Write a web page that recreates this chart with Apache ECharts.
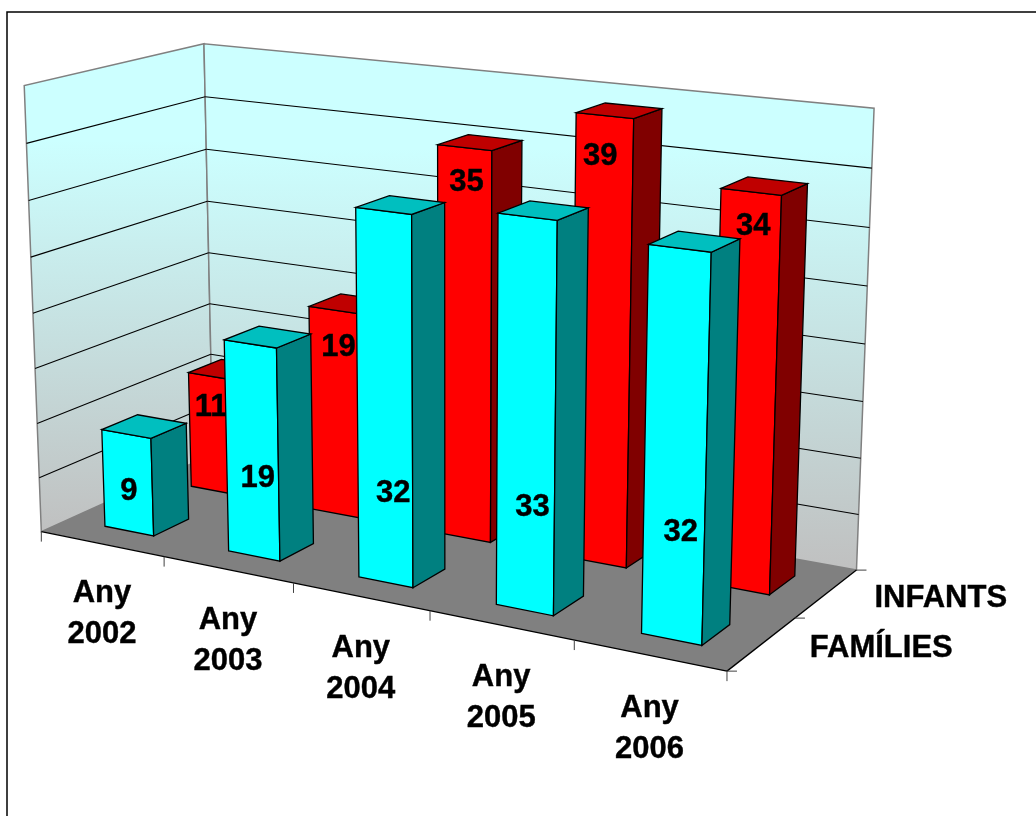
<!DOCTYPE html>
<html><head><meta charset="utf-8">
<style>html,body{margin:0;padding:0;background:#fff}#c{width:1036px;height:816px}</style>
<script src="https://cdn.jsdelivr.net/npm/echarts@6/dist/echarts.min.js"></script>
</head><body><div id="c"></div>
<script>
const categories = ['Any\n2002','Any\n2003','Any\n2004','Any\n2005','Any\n2006'];
const familiesValues = [9,19,32,33,32];
const infantsValues = [11,19,35,39,34];
const depthLabels = ['FAMÍLIES','INFANTS'];
const valueTicks = [0,5,10,15,20,25,30,35,40];

const W=1036,H=816;
// camera calibration: world point (x,value fraction,depth) -> page pixel
const CAL=[[0,0,0,42,531],[1,0,0,728,673],[1,0,1,856,569],[0,0,1,214,458],[0,1,0,24,88],[0,1,1,204,44],[1,1,1,875,108],
 [0,.875,1,205,96],[0,.75,1,206,148],[0,.625,1,207,201],[0,.5,1,209,252],
 [0,.875,0,26,143.5],[0,.75,0,29,200],[0,.625,0,31.5,257],[0,.25,0,37,422],[0,.125,0,38,477],
 [1,.875,1,872,168],[1,.75,1,869,228],[1,.625,1,867,287],[1,.125,1,858,513],
 [.2,0,0,164,556],[.4,0,0,293,583],[1,0,.5,795,618]];
function solve(A,b){const n=b.length,M=A.map((r,i)=>[...r,b[i]]);
 for(let i=0;i<n;i++){let p=i;for(let k=i+1;k<n;k++)if(Math.abs(M[k][i])>Math.abs(M[p][i]))p=k;[M[i],M[p]]=[M[p],M[i]];
  for(let k=0;k<n;k++){if(k===i)continue;const f=M[k][i]/M[i][i];for(let j=i;j<=n;j++)M[k][j]-=f*M[i][j];}}
 return M.map((r,i)=>r[n]/r[i]);}
const cam=(function(){const rows=[],rhs=[];
 CAL.forEach(([x,y,z,u,v])=>{rows.push([x,y,z,1,0,0,0,0,-u*x,-u*y,-u*z]);rhs.push(u);rows.push([0,0,0,0,x,y,z,1,-v*x,-v*y,-v*z]);rhs.push(v);});
 const AtA=Array.from({length:11},(_,i)=>Array.from({length:11},(_,j)=>rows.reduce((s,r)=>s+r[i]*r[j],0)));
 const Atb=Array.from({length:11},(_,i)=>rows.reduce((s,r,k)=>s+r[i]*rhs[k],0));
 return solve(AtA,Atb);})();
function P(x,y,z){const w=cam[8]*x+cam[9]*y+cam[10]*z+1;
 return [(cam[0]*x+cam[1]*y+cam[2]*z+cam[3])/w,(cam[4]*x+cam[5]*y+cam[6]*z+cam[7])/w];}

const BAR=0.4, DEPTH_GAP=0.15, DEPTH_BAR=0.2, EDGE=1.3;
const FONT='bold 31px "Liberation Sans",Arial,sans-serif';
const txt=(text,x,y,align,extra)=>({type:'text',style:Object.assign({text,x,y,align,verticalAlign:'middle',font:FONT,fill:'#000',stroke:'#000',lineWidth:0.4},extra||{})});
const fx=px=>px/W, fy=py=>(H-py)/H;
const poly=(pts,fill,stroke,lw)=>({type:'polygon',shape:{points:pts},style:{fill:fill,stroke:stroke||null,lineWidth:lw||1}});
const line=(a,b,c,lw)=>({type:'line',shape:{x1:a[0],y1:a[1],x2:b[0],y2:b[1]},style:{stroke:c,lineWidth:lw||1}});
const vfrac=(api,v)=>fy(api.coord([0,v])[1]);
const catEdge=(api,i)=>{const c=api.coord([i,0])[0],s=api.size([1,0])[0];return fx(c-s/2);};

function renderFrame(params,api){
 const top=vfrac(api,valueTicks[valueTicks.length-1]);
 const grad=()=>new echarts.graphic.LinearGradient(0,0,0,1,[{offset:0,color:'#CCFFFF'},{offset:0.2,color:'#CCFFFF'},{offset:1,color:'#C0C0C0'}]);
 const kids=[
  poly([P(0,0,0),P(0,top,0),P(0,top,1),P(0,0,1)],grad(),'#808080',1.5),
  poly([P(0,0,1),P(0,top,1),P(1,top,1),P(1,0,1)],grad(),'#808080',1.5),
  poly([P(0,0,0),P(1,0,0),P(1,0,1),P(0,0,1)],'#808080',null)
 ];
 valueTicks.slice(1,-1).forEach(t=>{const y=vfrac(api,t);
  kids.push(line(P(0,y,0),P(0,y,1),'#000',1.1),line(P(0,y,1),P(1,y,1),'#000',1.1));});
 kids.push(line(P(0,0,0),P(1,0,0),'#000',1.3),line(P(1,0,0),P(1,0,1),'#000',1.3));
 for(let i=0;i<=categories.length;i++){const p=P(i===categories.length?1:catEdge(api,i),0,0);
  kids.push(line(p,[p[0],p[1]+10],'#404040'));}
 for(let k=0;k<=depthLabels.length;k++){const p=P(1,0,k/depthLabels.length);
  kids.push(line(p,[p[0]+10,p[1]],'#404040'));}
 categories.forEach((c,i)=>{const p=P(fx(api.coord([i,0])[0]),0,0);
  kids.push(txt(c,p[0],p[1]+70+i,'center',{lineHeight:41}));});
 depthLabels.forEach((c,k)=>{const p=P(1,0,(k+.5)/depthLabels.length);
  kids.push(txt(c,p[0]+48,p[1]+5,'left'));});
 return {type:'group',children:kids};
}

function barRenderer(rowIndex,front,side,topc,labelAt){
 return function(params,api){
  const i=api.value(0),v=api.value(1);
  const c=api.coord([i,0])[0],s=api.size([1,0])[0];
  const x0=fx(c-s*BAR/2),x1=fx(c+s*BAR/2);
  const y=vfrac(api,v),y0=vfrac(api,0);
  const z0=rowIndex/depthLabels.length+DEPTH_GAP,z1=z0+DEPTH_BAR;
  const kids=[
   poly([P(x0,y0,z0),P(x1,y0,z0),P(x1,y,z0),P(x0,y,z0)],front,'#000',EDGE),
   poly([P(x1,y0,z0),P(x1,y0,z1),P(x1,y,z1),P(x1,y,z0)],side,'#000',EDGE),
   poly([P(x0,y,z0),P(x1,y,z0),P(x1,y,z1),P(x0,y,z1)],topc,'#000',EDGE)
  ];
  const a=labelAt[i];
  const lp=P((x0+x1)/2,vfrac(api,a[1]),z0);
  kids.push(txt(String(v),lp[0]+a[0],lp[1],'center'));
  return {type:'group',children:kids};
 };
}
// label anchors: [horizontal nudge in px, height on the bar in axis units]
const familiesLabelAt=[[1,3.7],[5,7.0],[8,7.9],[7,8.8],[7,9.0]];
const infantsLabelAt=[[-2,8],[4,15.6],[2,32],[-4,35.6],[3,31.1]];

const chart=echarts.init(document.getElementById('c'),null,{renderer:'canvas'});
chart.setOption({
 animation:false,
 backgroundColor:'#fff',
 graphic:[{type:'rect',shape:{x:7,y:12,width:1200,height:1000},style:{fill:null,stroke:'#000',lineWidth:1.5},silent:true,z:0}],
 grid:{left:0,right:0,top:0,bottom:0},
 xAxis:{type:'category',data:categories,show:false},
 yAxis:{type:'value',min:0,max:40,interval:5,show:false},
 series:[
  {type:'custom',silent:true,z:2,renderItem:renderFrame,data:[[0,0]],encode:{x:0,y:1}},
  {type:'custom',name:depthLabels[1],silent:true,z:3,renderItem:barRenderer(1,'#FF0000','#800000','#BF0000',infantsLabelAt),data:infantsValues.map((v,i)=>[i,v]),encode:{x:0,y:1}},
  {type:'custom',name:depthLabels[0],silent:true,z:4,renderItem:barRenderer(0,'#00FFFF','#008080','#00BFBF',familiesLabelAt),data:familiesValues.map((v,i)=>[i,v]),encode:{x:0,y:1}}
 ]
});
</script></body></html>
